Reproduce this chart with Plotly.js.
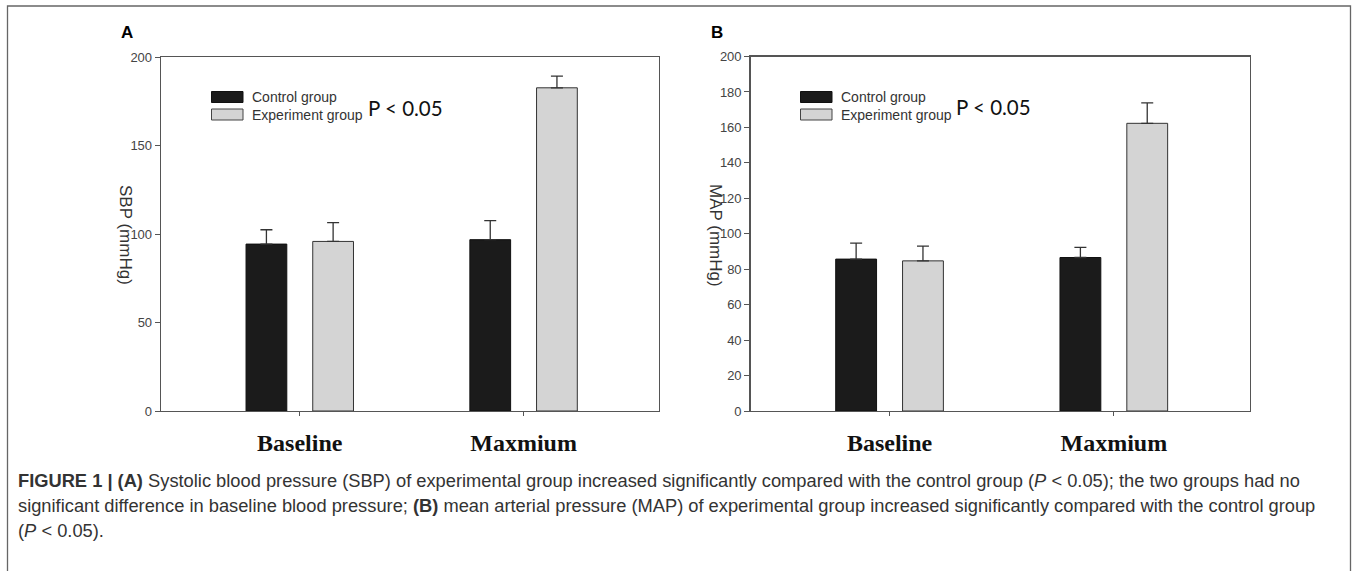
<!DOCTYPE html>
<html>
<head>
<meta charset="utf-8">
<script src="https://cdn.plot.ly/plotly-3.0.1.min.js"></script>
<style>
  html, body { margin: 0; padding: 0; background: #fff; }
  #chart { width: 1358px; height: 571px; }
</style>
</head>
<body>
<div id="chart"></div>
<script>
// ---- data ----
const categories = ['Baseline', 'Maxmium'];
const seriesNames = ['Control group', 'Experiment group'];
const sbpControl = [94.3, 96.8];
const sbpControlErr = [8.1, 10.8];
const sbpExperiment = [95.8, 182.6];
const sbpExperimentErr = [10.6, 6.6];
const mapControl = [85.7, 86.6];
const mapControlErr = [9.0, 5.7];
const mapExperiment = [84.7, 162.3];
const mapExperimentErr = [8.3, 11.5];
const sbpTicks = [0, 50, 100, 150, 200];
const mapTicks = [0, 20, 40, 60, 80, 100, 120, 140, 160, 180, 200];
const panelLabels = ['A', 'B'];
const yTitles = ['SBP (mmHg)', 'MAP (mmHg)'];
const pText = 'P &lt; 0.05';
const captionLines = [
  '<b>FIGURE 1 | (A)</b> Systolic blood pressure (SBP) of experimental group increased significantly compared with the control group (<i>P</i> &lt; 0.05); the two groups had no',
  'significant difference in baseline blood pressure; <b>(B)</b> mean arterial pressure (MAP) of experimental group increased significantly compared with the control group',
  '(<i>P</i> &lt; 0.05).'
];

// ---- helpers (pixel -> paper) ----
const W = 1358, H = 571;
const px = x => x / W;
const py = y => 1 - y / H;

const controlColor = '#1b1b1b';
const expColor = '#d4d4d4';
const zeros = arr => arr.map(() => 0);

function barTrace(name, y, err, color, lineColor, xa, ya) {
  return {
    type: 'bar', name: name, x: categories, y: y,
    xaxis: xa, yaxis: ya, showlegend: false,
    marker: { color: color, line: { color: lineColor, width: 1 } },
    error_y: { type: 'data', array: err, arrayminus: zeros(err), symmetric: false,
               color: '#333', thickness: 1.3, width: 6 },
    hoverinfo: 'skip'
  };
}

const traces = [
  barTrace(seriesNames[0], sbpControl, sbpControlErr, controlColor, '#111', 'x', 'y'),
  barTrace(seriesNames[1], sbpExperiment, sbpExperimentErr, expColor, '#333', 'x', 'y'),
  barTrace(seriesNames[0], mapControl, mapControlErr, controlColor, '#111', 'x2', 'y2'),
  barTrace(seriesNames[1], mapExperiment, mapExperimentErr, expColor, '#333', 'x2', 'y2')
];

const axisLine = { showline: true, linecolor: '#555', linewidth: 1.3, mirror: true,
                   showgrid: false, zeroline: false };
const xTickFont = { family: 'Liberation Serif, Times New Roman, serif', size: 24, color: '#111', weight: 'bold' };
const yTickFont = { family: 'Liberation Sans, Arial, sans-serif', size: 13, color: '#444' };

const panels = [
  { x0: 161, x1: 659, y0: 57, y1: 411 },
  { x0: 750.5, x1: 1249.5, y0: 56.5, y1: 411 }
];

const layout = {
  width: W, height: H,
  margin: { l: 0, r: 0, t: 0, b: 0 },
  paper_bgcolor: '#fff', plot_bgcolor: '#fff',
  barmode: 'group', bargap: 0.404, bargroupgap: 0.389,
  showlegend: false,
  font: { family: 'Liberation Sans, Arial, sans-serif' },
  xaxis: Object.assign({}, axisLine, {
    domain: [px(panels[0].x0), px(panels[0].x1)], anchor: 'y',
    range: [-0.62, 1.605], ticks: 'outside', ticklen: 4, tickcolor: '#555',
    tickfont: xTickFont, ticklabelstandoff: 6
  }),
  yaxis: Object.assign({}, axisLine, {
    domain: [py(panels[0].y1), py(panels[0].y0)], anchor: 'x',
    range: [0, 200], tickvals: sbpTicks, ticks: 'outside', ticklen: 5, tickcolor: '#555',
    tickfont: yTickFont
  }),
  xaxis2: Object.assign({}, axisLine, {
    domain: [px(panels[1].x0), px(panels[1].x1)], anchor: 'y2',
    range: [-0.62, 1.605], ticks: 'outside', ticklen: 4, tickcolor: '#555',
    tickfont: xTickFont, ticklabelstandoff: 6
  }),
  yaxis2: Object.assign({}, axisLine, {
    domain: [py(panels[1].y1), py(panels[1].y0)], anchor: 'x2',
    range: [0, 200], tickvals: mapTicks, ticks: 'outside', ticklen: 5, tickcolor: '#555',
    tickfont: yTickFont
  }),
  shapes: [],
  annotations: []
};

// outer frame
layout.shapes.push({ type: 'rect', xref: 'paper', yref: 'paper',
  x0: px(7.5), x1: px(1350.5), y0: py(576), y1: py(6),
  line: { color: '#666', width: 1.3 }, fillcolor: 'rgba(0,0,0,0)', layer: 'below' });

// legends, titles, labels per panel
const legendPos = [ { sx: 211.5, tx: 250, pX: 366, pY: 108 }, { sx: 800.5, tx: 839, pX: 954, pY: 107 } ];
const titlePos = [126, 716];
const labelPos = [127, 717];
[0, 1].forEach(i => {
  const L = legendPos[i];
  layout.shapes.push({ type: 'rect', xref: 'paper', yref: 'paper',
    x0: px(L.sx), x1: px(L.sx + 31.5), y0: py(102.5), y1: py(91.5),
    fillcolor: controlColor, line: { color: '#111', width: 1 } });
  layout.shapes.push({ type: 'rect', xref: 'paper', yref: 'paper',
    x0: px(L.sx), x1: px(L.sx + 31.5), y0: py(120), y1: py(109),
    fillcolor: expColor, line: { color: '#444', width: 1 } });
  layout.annotations.push({ xref: 'paper', yref: 'paper', x: px(L.tx), y: py(97),
    xanchor: 'left', yanchor: 'middle', showarrow: false, text: seriesNames[0],
    font: { family: 'Liberation Sans, Arial, sans-serif', size: 14, color: '#333' } });
  layout.annotations.push({ xref: 'paper', yref: 'paper', x: px(L.tx), y: py(114.5),
    xanchor: 'left', yanchor: 'middle', showarrow: false, text: seriesNames[1],
    font: { family: 'Liberation Sans, Arial, sans-serif', size: 14, color: '#333' } });
  layout.annotations.push({ xref: 'paper', yref: 'paper', x: px(L.pX), y: py(L.pY),
    xanchor: 'left', yanchor: 'middle', showarrow: false, text: pText,
    font: { family: 'Lato, Open Sans, sans-serif', size: 20.5, color: '#111' } });
  layout.annotations.push({ xref: 'paper', yref: 'paper', x: px(titlePos[i]), y: py(235),
    xanchor: 'center', yanchor: 'middle', showarrow: false, text: yTitles[i], textangle: 90,
    font: { family: 'Liberation Sans, Arial, sans-serif', size: 17, color: '#333' } });
  layout.annotations.push({ xref: 'paper', yref: 'paper', x: px(labelPos[i]), y: py(33),
    xanchor: 'center', yanchor: 'middle', showarrow: false, text: '<b>' + panelLabels[i] + '</b>',
    font: { family: 'Liberation Sans, Arial, sans-serif', size: 17, color: '#000' } });
});

// caption
const captionY = [480, 505, 530];
captionLines.forEach((t, i) => {
  layout.annotations.push({ xref: 'paper', yref: 'paper', x: px(16), y: py(captionY[i]),
    xanchor: 'left', yanchor: 'middle', showarrow: false, text: t, align: 'left',
    font: { family: 'Liberation Sans, Arial, sans-serif', size: 18.3, color: '#333' } });
});

Plotly.newPlot('chart', traces, layout, { staticPlot: true, displayModeBar: false });
</script>
</body>
</html>
